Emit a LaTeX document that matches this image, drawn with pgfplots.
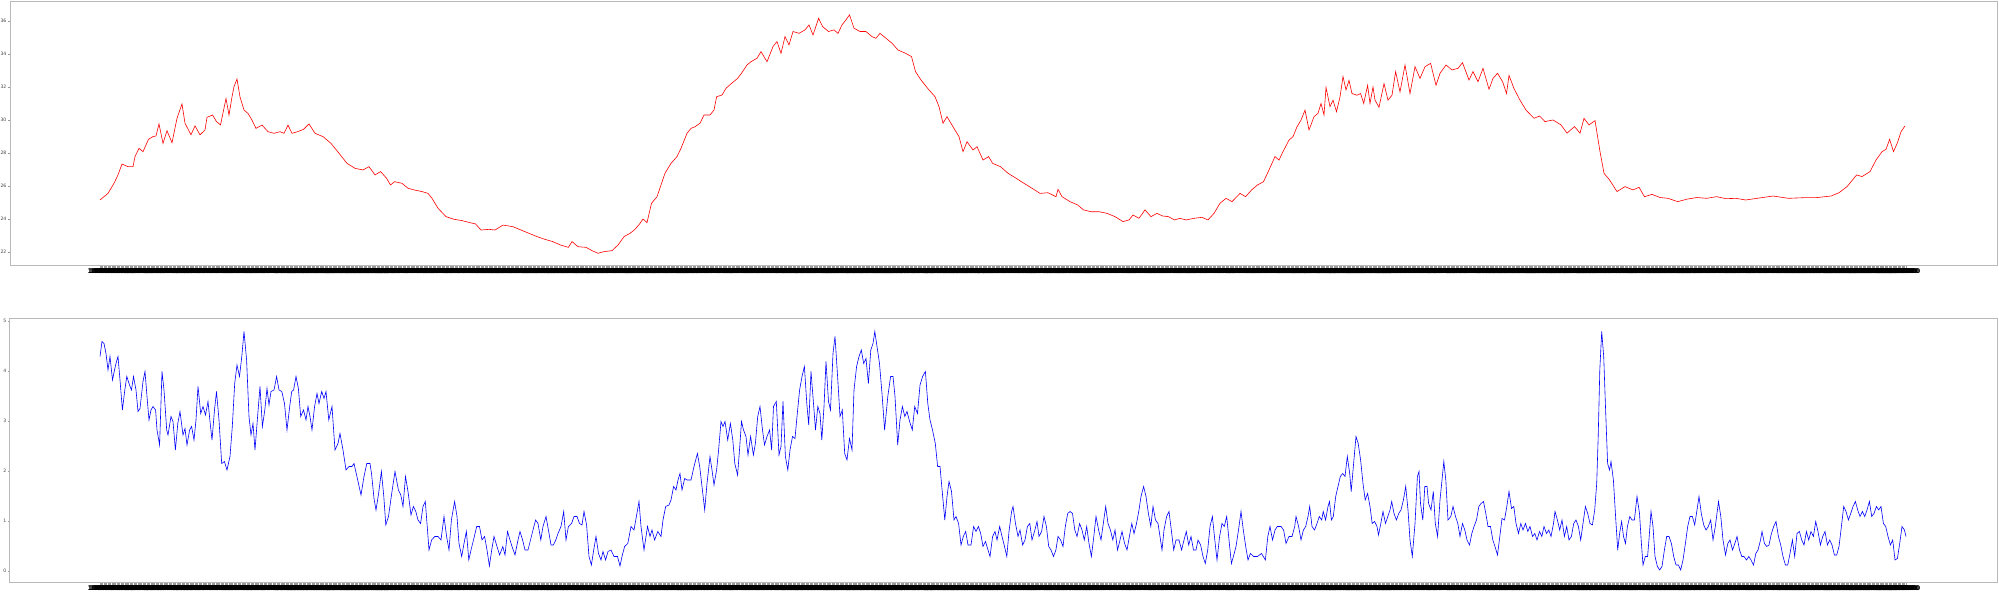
\documentclass[border=0pt]{standalone}
\usepackage{fontspec}
\setmainfont{DejaVu Sans}
\usepackage{pgfplots}
\pgfplotsset{compat=1.18}
\pgfplotsset{
  myax/.style={
    scale only axis, width=993.5pt, height=132pt,
    xmin=10, xmax=1997,
    axis line style={gray!55, line width=0.5pt},
    tick style={gray!80, line width=0.12pt},
    major tick length=1pt,
    tick align=outside,
    xtick pos=lower, ytick pos=left,
    xtick={100,101.3,...,1906},
    xticklabel={\pgfmathprintnumber[fixed,fixed zerofill,precision=2,1000 sep={}]{\tick}},
    /pgf/number format/assume math mode=true,
    x tick label style={font=\fontsize{3.2}{3.2}\selectfont\bfseries, inner sep=0pt, yshift=-0.2pt},
    y tick label style={font=\fontsize{2.3}{2.3}\selectfont, inner sep=0.6pt, text=black!75},
  }
}
\begin{document}
\begin{tikzpicture}
\useasboundingbox (0,0) rectangle (999.5pt,296pt);
\begin{axis}[myax, at={(5pt,163pt)}, anchor=south west,
  ymin=21.15, ymax=37.15, ytick={22,24,...,36}]
\addplot[red, line width=0.3pt] table {
x y
100 25.15
108 25.55
114 26.16
118 26.67
122 27.33
128 27.17
133 27.17
135 27.78
139 28.28
143 28.08
148.5 28.83
153 28.99
156 29.03
159 29.76
163 28.58
167 29.35
172 28.62
177 30.10
182 30.97
185 29.80
191 29.10
195 29.64
200 29.10
205 29.39
207 30.16
212.6 30.30
216.5 29.90
220.5 29.70
226 31.30
229 30.30
232 31.40
234 32.02
237 32.48
240 31.40
244 30.60
248 30.40
252 29.99
256 29.49
262 29.69
268 29.29
274 29.19
280 29.29
284 29.19
288 29.69
292 29.19
297.6 29.29
303.5 29.43
309 29.76
315 29.19
323 28.99
331 28.58
339 27.98
347 27.37
355 27.07
363 26.97
369 27.17
375 26.67
380.6 26.87
386.5 26.47
390.5 26.06
394.5 26.26
402 26.16
408 25.86
414 25.76
422 25.66
428 25.55
432 25.25
438 24.65
446 24.14
454 23.98
462 23.90
469.6 23.78
475.5 23.70
481 23.33
489 23.37
495 23.33
503 23.63
513 23.53
521 23.33
529 23.13
537 22.93
544.7 22.77
552.6 22.63
560.5 22.42
568.4 22.28
572 22.63
578 22.32
586 22.28
592 22.08
598 21.92
604 22.02
612 22.08
618 22.42
624 22.93
630 23.13
635 23.37
639.6 23.70
643 24.00
647 23.78
651.5 24.95
657 25.35
661 26.06
665 26.77
671 27.37
677 27.78
681 28.28
687 29.19
691 29.49
695 29.59
700 29.80
704 30.30
710 30.30
714 30.60
716.6 31.41
722 31.51
726 31.92
731.6 32.22
737.6 32.52
741.5 32.83
747 33.33
751 33.53
757 33.74
761 34.14
767 33.53
773 34.45
777 34.75
781 34.04
785 35.05
789 34.55
793 35.36
799 35.25
805 35.46
809 35.76
813 35.15
818.6 36.16
822.6 35.66
828.5 35.36
834 35.46
838 35.25
842 35.76
846 36.07
849.5 36.37
854 35.56
860 35.36
866 35.36
872 35.05
876 34.95
880 35.25
886 34.95
892 34.65
898 34.24
905.6 34.04
911.5 33.84
915.5 32.93
921 32.42
929 31.82
935 31.41
939 30.81
943 29.80
947 30.20
953 29.59
959 28.99
963 28.08
967 28.68
973 28.18
977 28.38
983 27.57
988.6 27.78
992.6 27.37
1000.5 27.17
1008 26.77
1016 26.47
1024 26.16
1032 25.86
1040 25.55
1048 25.59
1056 25.35
1058 25.80
1062 25.35
1070 25.05
1077.6 24.85
1083.5 24.55
1091 24.44
1099 24.44
1107 24.34
1115 24.14
1123 23.84
1129 23.94
1133 24.24
1139 24.04
1145 24.55
1151 24.14
1157 24.34
1162.6 24.18
1168.5 24.14
1174.5 23.94
1180 24.04
1186 23.94
1194 24.04
1202 24.10
1208 23.94
1214 24.34
1220 24.95
1226 25.25
1232 25.05
1240 25.55
1245.6 25.35
1251.6 25.76
1257.5 26.06
1263.5 26.26
1269 26.97
1275 27.78
1279 27.57
1283 28.08
1289 28.78
1293 28.99
1297 29.59
1301 29.99
1305 30.60
1309 29.39
1314 30.20
1318 30.40
1321 31.00
1324 30.30
1326 31.97
1330 30.81
1333 31.20
1336.5 30.50
1340 31.40
1343 32.63
1346 31.82
1349 32.40
1352 31.60
1357 31.50
1360.6 31.60
1363.7 31.00
1367.6 32.10
1370 31.00
1373 32.00
1375 31.20
1379 30.77
1384 32.20
1388 31.20
1392 31.50
1395.6 32.93
1400 31.70
1405 33.33
1410 31.60
1415 33.23
1420 32.52
1425 33.23
1430.6 33.43
1436 32.10
1440 32.83
1446 33.33
1452 33.03
1458 33.13
1462.5 33.47
1469 32.42
1473 32.93
1478 32.32
1483 33.13
1489 31.86
1493 32.52
1497.5 32.83
1502.6 32.32
1506.5 31.60
1509 32.70
1514 31.90
1520 31.20
1526 30.60
1534 30.10
1539.5 30.24
1545 29.90
1553 30.00
1561 29.70
1567 29.20
1574.5 29.60
1580 29.20
1584 30.10
1589 29.70
1595 29.96
1600 28.08
1604 26.77
1609.5 26.37
1617 25.66
1625 25.96
1633 25.76
1639 25.92
1644.5 25.35
1652 25.49
1660 25.30
1668 25.25
1677.6 25.05
1687 25.20
1697 25.30
1706.6 25.25
1716.5 25.35
1726 25.23
1736 25.25
1745.6 25.15
1757 25.25
1773 25.39
1788.5 25.25
1804 25.29
1816 25.29
1831 25.39
1839 25.59
1847 25.96
1852.6 26.37
1856.6 26.67
1862 26.57
1870 26.87
1876 27.57
1882 28.08
1886 28.22
1889.6 28.83
1893.5 28.08
1897.4 28.62
1901 29.29
1905 29.64
};
\end{axis}
\begin{axis}[myax, at={(5pt,4.5pt)}, anchor=south west,
  ymin=-0.24, ymax=5.04, ytick={0,1,2,3,4,5}]
\addplot[blue, line width=0.3pt] table {
x y
100 4.29
102 4.59
104 4.55
106 4.35
108 4.02
110 4.29
112.5 3.82
114.5 4.02
116.5 4.19
118 4.29
120 3.82
122.4 3.22
124.8 3.62
126.8 3.89
129.5 3.72
131.5 3.62
133.5 3.89
136 3.62
138 3.19
140 3.25
143 3.79
145 3.99
147 3.49
149 3.02
151 3.22
153 3.29
155.6 3.22
157 2.82
159.6 2.52
162 3.99
164 3.62
166.7 2.82
168 2.72
171 3.09
173 2.99
175.4 2.42
177.8 2.95
180 3.19
183 2.72
185 2.85
187 2.52
189.6 2.82
191.6 2.89
194 2.62
196 3.02
198 3.69
200.7 3.15
203 3.29
205.5 3.12
208 3.39
210 2.99
212 2.62
214.5 3.22
216.5 3.59
219 3.02
221.7 2.15
224.4 2.19
227 2.02
230 2.29
232.3 2.89
234.7 3.75
237 4.12
239.5 3.89
241.8 4.29
244 4.79
246.6 4.22
249 3.09
251 2.72
253 2.95
255 2.42
257.6 3.09
260 3.69
262.4 2.89
264.8 3.22
267 3.65
269 3.32
271 3.59
274 3.62
276.6 3.89
279 3.62
281.8 3.59
284.5 3.35
287 2.82
289.7 3.29
291.7 3.59
293.6 3.62
296 3.89
298.4 3.65
300.7 3.09
303.5 3.22
306 3.02
308 3.29
310 3.09
312 2.82
314.6 3.29
317 3.55
319 3.35
321.7 3.59
324 3.45
326 3.59
328.8 3.02
332 3.29
335 2.42
338 2.55
340 2.75
343 2.42
346 2.02
349 2.09
352 2.09
354 2.15
357.7 1.82
361 1.52
364 1.89
366.8 2.15
370 2.15
371.5 1.95
374 1.45
376 1.22
378.6 1.55
381.4 1.99
383.8 1.49
385.8 0.92
388.5 1.09
391.7 1.55
395 1.99
398.4 1.62
400.8 1.52
403 1.29
405.5 1.89
408 1.59
411 1.12
413.4 1.29
415.8 1.19
418 1.02
420.6 0.95
423 1.29
425.3 1.39
427 0.95
429 0.42
431.6 0.62
434.8 0.69
438 0.69
441 0.62
444 1.09
446.6 0.69
449 0.42
451.4 1.02
454.6 1.39
457 1.09
459 0.55
461.7 0.29
464 0.55
466.4 0.79
468.8 0.22
471 0.42
473.5 0.62
476.7 0.89
479.5 0.89
482 0.62
484.6 0.69
487 0.42
489.4 0.10
491.7 0.42
494 0.69
497 0.49
499.6 0.32
502.8 0.49
505 0.32
507.5 0.79
510 0.62
512 0.49
515 0.32
518 0.62
520 0.79
522.6 0.62
525 0.42
528 0.42
530.5 0.62
533 0.82
535.6 1.02
538 0.95
540.8 0.62
543 0.89
546 1.09
548.7 0.79
551 0.52
553.4 0.52
555.8 0.62
558 0.75
561 0.89
563.7 1.19
566 0.62
568.4 0.89
571.6 0.95
574 1.09
577 1.09
579.5 0.95
582 0.92
584 1.19
586.6 0.92
589 0.29
591.4 0.12
593.7 0.42
596 0.69
598.5 0.35
601 0.22
603 0.39
605.6 0.22
608 0.39
611 0.42
614 0.29
617.5 0.29
620 0.10
622 0.29
624.6 0.49
627.8 0.55
631 0.89
634 0.82
636.4 1.09
639 1.39
641 0.89
644 0.42
647.5 0.89
650 0.69
652 0.82
654.6 0.62
657.8 0.79
661 0.69
663 1.02
665.7 1.29
669 1.32
671 1.42
673.6 1.69
676 1.62
678 1.82
680 1.95
682 1.62
684.7 1.85
687 1.82
691 1.82
694 2.09
697.4 2.35
699.7 2.09
702.4 1.62
704.7 1.22
707 1.75
710 2.29
712 2.02
714 1.72
716.6 2.02
718.6 2.42
721 2.99
723 2.89
725 2.99
727.7 2.62
730.4 2.95
732.8 2.62
734.8 2.15
737.6 1.92
739.5 2.42
741.5 2.99
743.5 2.82
746 2.69
748 2.32
750.6 2.69
753.4 2.32
755.4 2.55
757.7 3.09
760 3.29
762.5 2.82
764.5 2.52
767 2.69
769.6 2.82
771.6 2.42
773.5 3.29
776.3 3.39
779 2.32
781 2.49
783 3.39
785.4 2.29
787.8 2.02
790 2.42
792.5 2.69
795 2.65
797 3.09
799.6 3.62
802 3.89
804.4 4.09
806.8 3.35
808.7 2.92
811 3.99
813.5 3.35
815.5 2.82
817.8 3.29
820 3.15
821.8 2.62
824 3.29
826 4.19
828.5 3.39
830.5 3.22
833 4.35
835 4.69
837.6 3.89
840 3.09
842.3 3.22
844.7 2.35
847 2.22
849.5 2.65
852 2.42
854 3.62
856.6 4.09
859 4.29
861.3 4.42
863.7 4.15
866 4.25
868.4 3.75
870.8 4.42
873 4.55
874.8 4.79
877 4.49
879.5 4.15
882 3.55
884.6 2.82
887.8 3.49
890.6 3.89
893 3.89
895 3.49
897.7 2.52
900 3.02
902.4 3.29
904.8 3.09
907 3.19
909.6 2.99
912.3 2.82
914.7 3.29
917.5 3.15
920 3.72
922.6 3.89
925.4 3.99
927.8 3.35
930 3.02
932.5 2.82
935.3 2.55
937.6 2.09
940 2.09
942.4 1.55
944.8 1.02
947 1.49
949 1.79
951.5 1.59
954 1.02
956 1.09
958.6 0.95
961 0.52
963.3 0.69
965.7 0.79
968 0.52
971 0.52
973.6 0.89
976 0.79
978.4 0.89
980.7 0.75
983 0.49
985.5 0.59
988 0.42
990 0.29
992.6 0.69
995 0.79
997 0.62
999.7 0.89
1002 0.69
1004.5 0.49
1006.8 0.29
1009 0.79
1011.6 1.19
1013 1.29
1015.5 0.95
1018 0.69
1020 0.82
1022.6 0.52
1025 0.62
1027.4 0.89
1029.8 0.95
1032 0.62
1034.5 0.79
1037 0.99
1039 0.69
1041.6 0.79
1044 1.09
1046.4 0.89
1048.7 0.49
1051 0.42
1053.5 0.29
1055.9 0.42
1058 0.69
1060.6 0.62
1063 0.49
1065.3 0.89
1067.7 1.15
1070 1.19
1072.5 1.15
1074.8 0.82
1077 0.69
1079.6 0.95
1082 0.82
1084.3 0.62
1086.7 0.89
1089 0.55
1091.4 0.29
1093.8 0.69
1096 1.09
1098.6 0.82
1101 0.62
1103.3 0.95
1105.7 1.29
1108 0.95
1110.4 0.82
1112.8 0.62
1115 0.82
1117.5 0.42
1120 0.62
1122 0.79
1124.6 0.55
1127 0.42
1129.4 0.69
1131.8 0.95
1134 0.75
1136.5 0.95
1139 1.22
1141 1.49
1143.6 1.69
1146 1.49
1148.4 1.15
1150.8 0.89
1153 1.29
1155.5 1.02
1158 0.95
1160 0.69
1162 0.42
1164 0.82
1166.6 1.09
1169 1.19
1171.3 0.82
1173.7 0.42
1176 0.62
1179 0.62
1181.6 0.42
1184 0.62
1186.3 0.79
1188.7 0.52
1191 0.69
1193.5 0.42
1196 0.42
1198 0.62
1200.6 0.52
1203 0.29
1205.3 0.15
1207.7 0.42
1210 0.89
1212.4 1.09
1214.8 0.62
1217 0.22
1219.6 0.69
1222 0.95
1224.3 0.89
1226.7 1.09
1229 0.62
1231.4 0.15
1233.8 0.32
1236 0.49
1238.5 0.82
1241 1.19
1243.3 0.82
1245.7 0.49
1248 0.22
1250.4 0.35
1253.6 0.29
1257.5 0.29
1261.5 0.35
1265.4 0.22
1267.8 0.69
1270 0.89
1272.5 0.62
1275 0.82
1277.3 0.89
1281 0.89
1283.6 0.82
1286 0.55
1289 0.69
1292 0.69
1294.7 0.89
1296 1.09
1298.6 0.89
1301 0.62
1303.4 0.82
1305.7 0.89
1308 1.09
1309.7 1.29
1312 0.89
1314.5 0.82
1317 0.95
1319.3 1.09
1321.7 1.02
1323.2 1.19
1325.6 1.02
1328 1.29
1329.5 1.39
1331.4 1.02
1333.3 1.09
1335.7 1.49
1338 1.69
1340.3 1.89
1342.7 1.95
1345 1.89
1347.3 2.29
1349.7 1.95
1351.2 1.59
1353.6 2.15
1356 2.69
1358.2 2.55
1360.6 2.22
1363 1.75
1365.2 1.42
1367.6 1.55
1370 1.29
1372.2 0.95
1374.6 0.99
1377 0.89
1378.5 0.72
1380.8 0.95
1383 1.19
1385.5 0.95
1387.8 1.09
1390 1.22
1391.7 1.39
1394 1.15
1396.4 1.02
1398.7 1.15
1401 1.22
1403.4 1.42
1405.7 1.69
1408 1.22
1410 0.62
1412.3 0.29
1415 0.95
1417.4 1.89
1419 1.99
1420.5 1.35
1422.8 1.02
1424.8 1.69
1427 1.69
1428.6 1.35
1431 1.22
1433.3 1.59
1435.3 0.95
1437.6 0.69
1440 1.42
1442 1.82
1443.8 2.19
1445.8 1.82
1448 1.02
1450.8 1.09
1453 1.29
1455.5 1.09
1457.8 0.95
1460 0.69
1462.5 0.95
1464.8 0.82
1467 0.62
1469.5 0.52
1471.8 0.75
1474 0.89
1476.5 1.02
1478.8 1.29
1481 1.35
1483.5 1.39
1485.8 1.15
1488 0.89
1490.5 0.89
1492.8 0.62
1495 0.49
1497.5 0.32
1499.8 0.69
1502 1.05
1504.5 1.02
1506.8 1.29
1509 1.59
1511.5 1.25
1513.8 1.29
1516 0.95
1518.5 0.75
1520.8 0.95
1523 0.82
1525.5 0.95
1527.8 0.79
1530 0.89
1532.5 0.69
1534.8 0.75
1537 0.62
1539.5 0.79
1541.8 0.69
1544 0.89
1546.5 0.75
1548.8 0.82
1551 0.69
1553.5 0.95
1555 1.19
1557.4 1.02
1559.7 0.82
1562 1.02
1564.4 0.69
1566.7 0.89
1569 0.62
1571.4 0.69
1573.7 0.95
1576 1.02
1578.4 0.89
1580.7 0.62
1583 0.95
1585.4 1.29
1587.7 1.15
1590 0.95
1592.4 0.92
1594.7 1.22
1596.7 1.75
1598.2 2.69
1599.8 4.02
1601.7 4.79
1603.7 4.29
1605.6 3.22
1607.6 2.15
1609.5 2.02
1611 2.19
1613.4 1.82
1615.8 1.02
1617.7 0.42
1619.6 0.75
1621.6 0.99
1623.5 0.69
1625.5 0.55
1627.4 0.89
1629.8 1.09
1632 1.02
1634.4 1.02
1637 1.49
1639.5 1.15
1641.4 0.55
1643 0.12
1645.3 0.29
1647.6 0.29
1649.2 0.69
1651 1.19
1653 0.89
1655 0.29
1657.4 0.09
1659.7 0.02
1662 0.09
1664.4 0.42
1666.7 0.69
1669 0.69
1671.4 0.55
1673.7 0.29
1676 0.12
1678.4 0.12
1680.7 0.02
1683 0.22
1685.4 0.55
1687.7 0.89
1690 1.09
1692.4 1.09
1694.7 0.92
1697 1.22
1699 1.49
1701.3 1.15
1703.7 0.92
1706 0.82
1708.3 0.89
1710.7 1.02
1713 0.62
1715.3 0.89
1718.5 1.39
1720.8 1.09
1723 0.62
1725.5 0.32
1727.8 0.55
1730 0.62
1732.5 0.42
1734.8 0.55
1737 0.69
1739.5 0.42
1741.8 0.29
1744 0.29
1746.5 0.22
1748.8 0.29
1751 0.22
1753.5 0.12
1755.8 0.35
1758 0.42
1760.5 0.62
1762 0.79
1764.4 0.55
1766.7 0.49
1769 0.52
1771.4 0.75
1773.7 0.89
1776 0.99
1778.4 0.69
1780.7 0.52
1783 0.29
1785.4 0.12
1787.7 0.12
1790 0.35
1792.4 0.62
1794.7 0.29
1797 0.75
1799.4 0.79
1801.7 0.62
1804 0.52
1806.4 0.79
1808.7 0.62
1811 0.79
1813.4 0.69
1815.7 0.99
1818 0.79
1820.4 0.52
1822.7 0.69
1825 0.79
1827.4 0.52
1829.7 0.62
1832 0.52
1834.4 0.32
1836.7 0.32
1839 0.49
1841.4 0.89
1843.7 1.29
1846 1.19
1848.4 1.02
1850.7 1.15
1853 1.29
1855.4 1.39
1857.7 1.22
1860 1.09
1862.4 1.19
1864.7 1.09
1867 1.22
1869.4 1.39
1871.7 1.09
1874 1.15
1876.4 1.29
1878.7 1.22
1881 1.29
1883.4 0.95
1885.7 0.89
1888 0.69
1890.4 0.52
1892.7 0.62
1895 0.22
1897.4 0.25
1899.7 0.55
1902 0.89
1904.4 0.82
1906 0.69
};
\end{axis}
\end{tikzpicture}
\end{document}
